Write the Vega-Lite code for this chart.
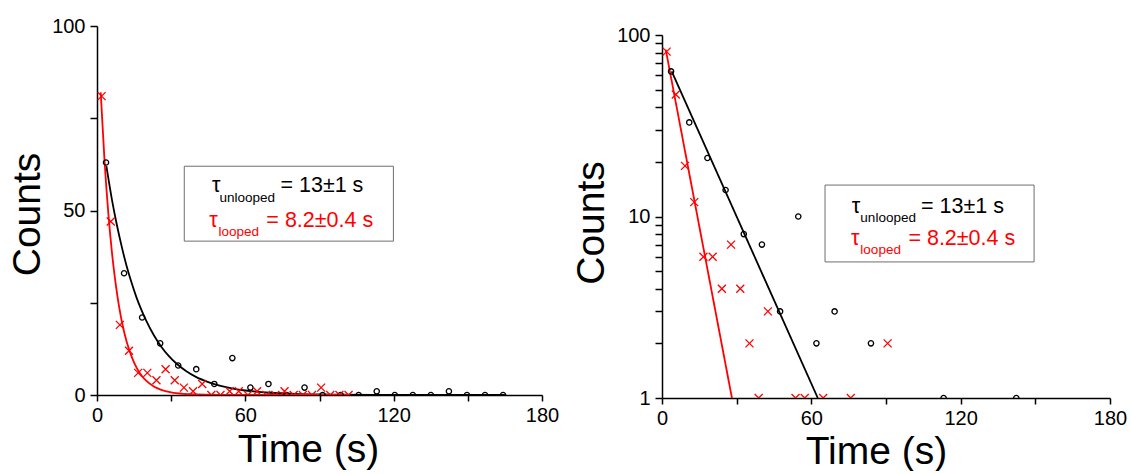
{
  "$schema": "https://vega.github.io/schema/vega-lite/v6.json",
  "padding": {"left": 8, "top": 16, "right": 10, "bottom": 0},
  "bounds": "flush",
  "spacing": 120,
  "config": {
    "view": {"stroke": null},
    "font": "Liberation Sans",
    "axis": {
      "domainColor": "#000000", "domainWidth": 1.5, "tickColor": "#000000", "tickWidth": 1.5,
      "tickSize": 7, "labelFontSize": 20, "labelColor": "#000000", "labelFont": "Liberation Sans",
      "titleFont": "Liberation Sans", "titleFontSize": 39, "titleFontWeight": "normal", "titleColor": "#000000",
      "grid": false, "labelPadding": 4, "labelOverlap": false, "labelFlush": false
    }
  },
  "datasets": {
    "black": [
      {"t": 3.65, "count": 63}, {"t": 10.95, "count": 33}, {"t": 18.25, "count": 21}, {"t": 25.55, "count": 14},
      {"t": 32.85, "count": 8}, {"t": 40.15, "count": 7}, {"t": 47.45, "count": 3}, {"t": 54.75, "count": 10},
      {"t": 62.05, "count": 2}, {"t": 69.35, "count": 3}, {"t": 76.65, "count": 0}, {"t": 83.95, "count": 2},
      {"t": 91.25, "count": 0}, {"t": 98.55, "count": 0}, {"t": 105.85, "count": 0}, {"t": 113.15, "count": 1},
      {"t": 120.45, "count": 0}, {"t": 127.75, "count": 0}, {"t": 135.05, "count": 0}, {"t": 142.35, "count": 1},
      {"t": 149.65, "count": 0}, {"t": 156.95, "count": 0}, {"t": 164.25, "count": 0}
    ],
    "red": [
      {"t": 1.85, "count": 81}, {"t": 5.55, "count": 47}, {"t": 9.25, "count": 19}, {"t": 12.95, "count": 12},
      {"t": 16.65, "count": 6}, {"t": 20.35, "count": 6}, {"t": 24.05, "count": 4}, {"t": 27.75, "count": 7},
      {"t": 31.45, "count": 4}, {"t": 35.15, "count": 2}, {"t": 38.85, "count": 1}, {"t": 42.55, "count": 3},
      {"t": 46.25, "count": 0}, {"t": 49.95, "count": 0}, {"t": 53.65, "count": 1}, {"t": 57.35, "count": 1},
      {"t": 61.05, "count": 0}, {"t": 64.75, "count": 1}, {"t": 68.45, "count": 0}, {"t": 72.15, "count": 0},
      {"t": 75.85, "count": 1}, {"t": 79.55, "count": 0}, {"t": 83.25, "count": 0}, {"t": 86.95, "count": 0},
      {"t": 90.65, "count": 2}, {"t": 94.35, "count": 0}, {"t": 98.05, "count": 0}, {"t": 101.75, "count": 0}
    ],
    "blackFit": [
      {"t": 3.8, "count": 62}, {"t": 6, "count": 53.1}, {"t": 8, "count": 46.2}, {"t": 10, "count": 40.2},
      {"t": 12, "count": 34.9}, {"t": 14, "count": 30.4}, {"t": 16, "count": 26.4}, {"t": 18, "count": 23.0},
      {"t": 20, "count": 20.0}, {"t": 23, "count": 16.2}, {"t": 26, "count": 13.1}, {"t": 29, "count": 10.6},
      {"t": 32, "count": 8.6}, {"t": 36, "count": 6.5}, {"t": 40, "count": 4.9}, {"t": 45, "count": 3.5},
      {"t": 50, "count": 2.45}, {"t": 55, "count": 1.73}, {"t": 60, "count": 1.22}, {"t": 70, "count": 0.61},
      {"t": 80, "count": 0.3}, {"t": 90, "count": 0.15}, {"t": 100, "count": 0.07}, {"t": 120, "count": 0.02},
      {"t": 140, "count": 0.005}, {"t": 165, "count": 0}
    ],
    "redFit": [
      {"t": 1.5, "count": 82}, {"t": 3, "count": 64}, {"t": 4.5, "count": 49.9}, {"t": 6, "count": 38.9},
      {"t": 7.5, "count": 30.4}, {"t": 9, "count": 23.7}, {"t": 10.5, "count": 18.5}, {"t": 12, "count": 14.4},
      {"t": 14, "count": 10.4}, {"t": 16, "count": 7.4}, {"t": 18, "count": 5.3}, {"t": 20, "count": 3.8},
      {"t": 23, "count": 2.3}, {"t": 26, "count": 1.4}, {"t": 30, "count": 0.73}, {"t": 35, "count": 0.32},
      {"t": 40, "count": 0.14}, {"t": 50, "count": 0.03}, {"t": 60, "count": 0}, {"t": 102, "count": 0}
    ],
    "blackFitLog": [{"t": 3.9, "count": 63}, {"t": 62.6, "count": 1}],
    "redFitLog": [{"t": 1.5, "count": 83}, {"t": 28.1, "count": 1}],
    "one": [{}]
  },
  "hconcat": [
    {
      "width": 445,
      "height": 369,
      "layer": [
        {
          "data": {"name": "one"},
          "mark": {"type": "rect", "fill": "#ffffff", "stroke": "#6e6e6e", "strokeWidth": 1},
          "encoding": {
            "x": {"datum": 35.3, "type": "quantitative"}, "x2": {"datum": 119.9},
            "y": {"datum": 62.0, "type": "quantitative"}, "y2": {"datum": 41.7}
          }
        },
        {
          "data": {"name": "blackFit"},
          "mark": {"type": "line", "color": "#000000", "strokeWidth": 1.8, "clip": true, "interpolate": "monotone"},
          "encoding": {
            "x": {"field": "t", "type": "quantitative", "scale": {"domain": [0, 180], "nice": false},
              "axis": {"title": "Time (s)", "values": [0, 30, 60, 90, 120, 150, 180],
                "labelExpr": "datum.value % 60 === 0 ? datum.label : ''", "tickSize": 6,
                "titleX": 211, "titleY": 66, "titleBaseline": "alphabetic", "titleAlign": "center"}},
            "y": {"field": "count", "type": "quantitative", "scale": {"domain": [0, 100], "nice": false},
              "axis": {"title": "Counts", "values": [0, 25, 50, 75, 100],
                "labelExpr": "datum.value % 50 === 0 ? datum.label : ''", "labelPadding": 5,
                "titleX": -57.7, "titleY": 188, "titleBaseline": "alphabetic", "titleAlign": "center", "titleAngle": -90}}
          }
        },
        {
          "data": {"name": "redFit"},
          "mark": {"type": "line", "color": "#ff0000", "strokeWidth": 1.8, "clip": true, "interpolate": "monotone"},
          "encoding": {"x": {"field": "t", "type": "quantitative"}, "y": {"field": "count", "type": "quantitative"}}
        },
        {
          "data": {"name": "black"},
          "mark": {"type": "point", "shape": "circle", "filled": false, "color": "#000000", "size": 28, "strokeWidth": 1.3, "opacity": 1, "clip": true},
          "encoding": {"x": {"field": "t", "type": "quantitative"}, "y": {"field": "count", "type": "quantitative"}}
        },
        {
          "data": {"name": "red"},
          "mark": {"type": "point", "shape": "M-1,-1L1,1M-1,1L1,-1", "filled": false, "color": "#ff0000", "size": 64, "strokeWidth": 1.3, "opacity": 1, "clip": true},
          "encoding": {"x": {"field": "t", "type": "quantitative"}, "y": {"field": "count", "type": "quantitative"}}
        },
        {
          "data": {"name": "one"},
          "mark": {"type": "text", "text": "τ", "fontSize": 21.5, "align": "left", "baseline": "alphabetic", "color": "#000000"},
          "encoding": {"x": {"datum": 46.5, "type": "quantitative"}, "y": {"datum": 54.9, "type": "quantitative"}}
        },
        {
          "data": {"name": "one"},
          "mark": {"type": "text", "text": "unlooped", "fontSize": 13.5, "align": "left", "baseline": "alphabetic", "color": "#000000"},
          "encoding": {"x": {"datum": 49.5, "type": "quantitative"}, "y": {"datum": 52.2, "type": "quantitative"}}
        },
        {
          "data": {"name": "one"},
          "mark": {"type": "text", "text": "= 13±1 s", "fontSize": 21.5, "align": "left", "baseline": "alphabetic", "color": "#000000"},
          "encoding": {"x": {"datum": 74.2, "type": "quantitative"}, "y": {"datum": 54.9, "type": "quantitative"}}
        },
        {
          "data": {"name": "one"},
          "mark": {"type": "text", "text": "τ", "fontSize": 21.5, "align": "left", "baseline": "alphabetic", "color": "#ff0000"},
          "encoding": {"x": {"datum": 45.4, "type": "quantitative"}, "y": {"datum": 45.4, "type": "quantitative"}}
        },
        {
          "data": {"name": "one"},
          "mark": {"type": "text", "text": "looped", "fontSize": 13.5, "align": "left", "baseline": "alphabetic", "color": "#ff0000"},
          "encoding": {"x": {"datum": 49.1, "type": "quantitative"}, "y": {"datum": 43.0, "type": "quantitative"}}
        },
        {
          "data": {"name": "one"},
          "mark": {"type": "text", "text": "= 8.2±0.4 s", "fontSize": 21.5, "align": "left", "baseline": "alphabetic", "color": "#ff0000"},
          "encoding": {"x": {"datum": 68.5, "type": "quantitative"}, "y": {"datum": 45.4, "type": "quantitative"}}
        }
      ]
    },
    {
      "spacing": 0,
      "bounds": "flush",
      "vconcat": [
        {
          "width": 448,
          "height": 9,
          "data": {"name": "one"},
          "mark": {"type": "text", "text": ""},
          "encoding": {}
        },
        {
          "width": 448,
          "height": 363,
          "layer": [
            {
              "data": {"name": "one"},
              "mark": {"type": "rect", "fill": "#ffffff", "stroke": "#6e6e6e", "strokeWidth": 1},
              "encoding": {
                "x": {"datum": 65.5, "type": "quantitative"}, "x2": {"datum": 149.5},
                "y": {"datum": 14.9, "type": "quantitative"}, "y2": {"datum": 5.62}
              }
            },
            {
              "data": {"name": "blackFitLog"},
              "mark": {"type": "line", "color": "#000000", "strokeWidth": 1.8, "clip": true},
              "encoding": {
                "x": {"field": "t", "type": "quantitative", "scale": {"domain": [0, 180], "nice": false},
                  "axis": {"title": "Time (s)", "values": [0, 30, 60, 90, 120, 150, 180],
                    "labelExpr": "datum.value % 60 === 0 ? datum.label : ''", "tickSize": 6,
                    "titleX": 214, "titleY": 65, "titleBaseline": "alphabetic", "titleAlign": "center"}},
                "y": {"field": "count", "type": "quantitative", "scale": {"type": "log", "domain": [1, 100], "nice": false},
                  "axis": {"title": "Counts", "values": [1, 2, 3, 4, 5, 6, 7, 8, 9, 10, 20, 30, 40, 50, 60, 70, 80, 90, 100],
                    "labelExpr": "(datum.value === 1 || datum.value === 10 || datum.value === 100) ? format(datum.value, 'd') : ''", "labelPadding": 5,
                    "titleX": -58.4, "titleY": 187.5, "titleBaseline": "alphabetic", "titleAlign": "center", "titleAngle": -90}}
              }
            },
            {
              "data": {"name": "redFitLog"},
              "mark": {"type": "line", "color": "#ff0000", "strokeWidth": 1.8, "clip": true},
              "encoding": {"x": {"field": "t", "type": "quantitative"}, "y": {"field": "count", "type": "quantitative"}}
            },
            {
              "data": {"name": "black"},
              "transform": [{"filter": "datum.count > 0"}],
              "mark": {"type": "point", "shape": "circle", "filled": false, "color": "#000000", "size": 28, "strokeWidth": 1.3, "opacity": 1, "clip": true},
              "encoding": {"x": {"field": "t", "type": "quantitative"}, "y": {"field": "count", "type": "quantitative"}}
            },
            {
              "data": {"name": "red"},
              "transform": [{"filter": "datum.count > 0"}],
              "mark": {"type": "point", "shape": "M-1,-1L1,1M-1,1L1,-1", "filled": false, "color": "#ff0000", "size": 64, "strokeWidth": 1.3, "opacity": 1, "clip": true},
              "encoding": {"x": {"field": "t", "type": "quantitative"}, "y": {"field": "count", "type": "quantitative"}}
            },
            {
              "data": {"name": "one"},
              "mark": {"type": "text", "text": "τ", "fontSize": 21.5, "align": "left", "baseline": "alphabetic", "color": "#000000"},
              "encoding": {"x": {"datum": 76.2, "type": "quantitative"}, "y": {"datum": 10.5, "type": "quantitative"}}
            },
            {
              "data": {"name": "one"},
              "mark": {"type": "text", "text": "unlooped", "fontSize": 13.5, "align": "left", "baseline": "alphabetic", "color": "#000000"},
              "encoding": {"x": {"datum": 79.7, "type": "quantitative"}, "y": {"datum": 9.36, "type": "quantitative"}}
            },
            {
              "data": {"name": "one"},
              "mark": {"type": "text", "text": "= 13±1 s", "fontSize": 21.5, "align": "left", "baseline": "alphabetic", "color": "#000000"},
              "encoding": {"x": {"datum": 104.1, "type": "quantitative"}, "y": {"datum": 10.5, "type": "quantitative"}}
            },
            {
              "data": {"name": "one"},
              "mark": {"type": "text", "text": "τ", "fontSize": 21.5, "align": "left", "baseline": "alphabetic", "color": "#ff0000"},
              "encoding": {"x": {"datum": 75.9, "type": "quantitative"}, "y": {"datum": 6.97, "type": "quantitative"}}
            },
            {
              "data": {"name": "one"},
              "mark": {"type": "text", "text": "looped", "fontSize": 13.5, "align": "left", "baseline": "alphabetic", "color": "#ff0000"},
              "encoding": {"x": {"datum": 79.7, "type": "quantitative"}, "y": {"datum": 6.22, "type": "quantitative"}}
            },
            {
              "data": {"name": "one"},
              "mark": {"type": "text", "text": "= 8.2±0.4 s", "fontSize": 21.5, "align": "left", "baseline": "alphabetic", "color": "#ff0000"},
              "encoding": {"x": {"datum": 99.0, "type": "quantitative"}, "y": {"datum": 6.97, "type": "quantitative"}}
            }
          ]
        }
      ]
    }
  ]
}
